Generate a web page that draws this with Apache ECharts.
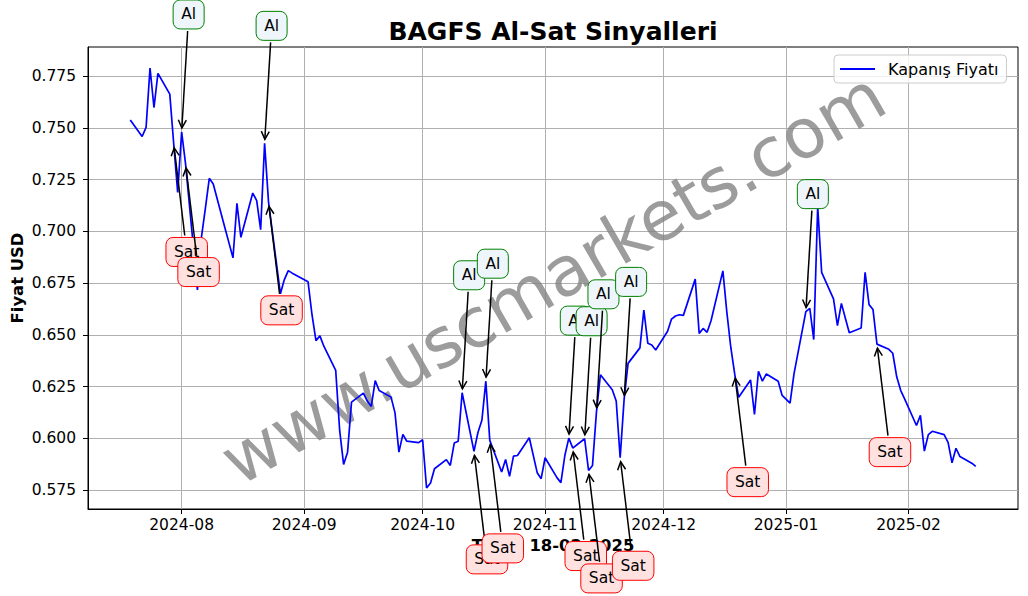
<!DOCTYPE html>
<html>
<head>
<meta charset="utf-8">
<script src="https://cdn.jsdelivr.net/npm/echarts@6/dist/echarts.min.js"></script>
<style>
html,body{margin:0;padding:0;background:#fff;}
#chart{width:1028px;height:596px;}
</style>
</head>
<body>
<div id="chart"></div>
<script>
const dates = [
'2024-07-19','2024-07-22','2024-07-23','2024-07-24','2024-07-25','2024-07-26','2024-07-29','2024-07-30','2024-07-31',
'2024-08-01','2024-08-02','2024-08-05','2024-08-06','2024-08-07','2024-08-08','2024-08-09','2024-08-12','2024-08-13',
'2024-08-14','2024-08-15','2024-08-16','2024-08-19','2024-08-20','2024-08-21','2024-08-22','2024-08-23','2024-08-26',
'2024-08-27','2024-08-28','2024-08-29','2024-09-02','2024-09-03','2024-09-04','2024-09-05','2024-09-06','2024-09-09',
'2024-09-10','2024-09-11','2024-09-12','2024-09-13','2024-09-16','2024-09-17','2024-09-18','2024-09-19','2024-09-20',
'2024-09-23','2024-09-24','2024-09-25','2024-09-26','2024-09-27','2024-09-30','2024-10-01','2024-10-02','2024-10-03',
'2024-10-04','2024-10-07','2024-10-08','2024-10-09','2024-10-10','2024-10-11','2024-10-14','2024-10-15','2024-10-16',
'2024-10-17','2024-10-18','2024-10-21','2024-10-22','2024-10-23','2024-10-24','2024-10-25','2024-10-28','2024-10-30',
'2024-10-31','2024-11-01','2024-11-04','2024-11-05','2024-11-06','2024-11-07','2024-11-08','2024-11-11','2024-11-12',
'2024-11-13','2024-11-14','2024-11-15','2024-11-18','2024-11-19','2024-11-20','2024-11-21','2024-11-22','2024-11-25',
'2024-11-26','2024-11-27','2024-11-28','2024-11-29','2024-12-02','2024-12-03','2024-12-04','2024-12-05','2024-12-06',
'2024-12-09','2024-12-10','2024-12-11','2024-12-12','2024-12-13','2024-12-16','2024-12-17','2024-12-18','2024-12-19',
'2024-12-20','2024-12-23','2024-12-24','2024-12-25','2024-12-26','2024-12-27','2024-12-30','2024-12-31','2025-01-02',
'2025-01-03','2025-01-06','2025-01-07','2025-01-08','2025-01-09','2025-01-10','2025-01-13','2025-01-14','2025-01-15',
'2025-01-16','2025-01-17','2025-01-20','2025-01-21','2025-01-22','2025-01-23','2025-01-24','2025-01-27','2025-01-28',
'2025-01-29','2025-01-30','2025-01-31','2025-02-03','2025-02-04','2025-02-05','2025-02-06','2025-02-07','2025-02-10',
'2025-02-11','2025-02-12','2025-02-13','2025-02-14','2025-02-17','2025-02-18'
];
const prices = [
0.7538,0.7458,0.7502,0.7789,0.7598,0.7763,0.7663,0.7422,0.7188,
0.7480,0.7325,0.6717,0.6970,0.7110,0.7256,0.7229,0.7014,0.6943,
0.6872,0.7135,0.6971,0.7185,0.7148,0.7008,0.7425,0.7140,0.6698,
0.6767,0.6810,0.6798,0.6756,0.6597,0.6472,0.6495,0.6445,0.6328,
0.6038,0.5874,0.5933,0.6175,0.6218,0.6180,0.6154,0.6279,0.6231,
0.6199,0.6124,0.5933,0.6019,0.5986,0.5979,0.5993,0.5760,0.5784,
0.5853,0.5897,0.5869,0.5977,0.5986,0.6220,0.5937,0.6028,0.6087,
0.6276,0.5990,0.5837,0.5898,0.5816,0.5914,0.5917,0.6003,0.5834,
0.5805,0.5906,0.5810,0.5786,0.5917,0.6001,0.5953,0.5998,0.5845,
0.5869,0.6128,0.6307,0.6235,0.6180,0.5906,0.6188,0.6362,0.6437,
0.6620,0.6459,0.6451,0.6427,0.6517,0.6576,0.6591,0.6597,0.6594,
0.6769,0.6507,0.6531,0.6512,0.6568,0.6809,0.6610,0.6440,0.6310,
0.6198,0.6282,0.6115,0.6324,0.6276,0.6311,0.6276,0.6207,0.6170,
0.6311,0.6612,0.6628,0.6477,0.7120,0.6802,0.6674,0.6545,0.6652,
0.6580,0.6510,0.6533,0.6802,0.6646,0.6622,0.6455,0.6430,0.6411,
0.6297,0.6232,0.6191,0.6062,0.6111,0.5938,0.6018,0.6034,0.6018,
0.5980,0.5882,0.5952,0.5912,0.5880,0.5864
];
const alDates = ['2024-08-01','2024-08-22','2024-10-11','2024-10-17','2024-11-07','2024-11-11','2024-11-14','2024-11-21','2025-01-06'];
const satDates = ['2024-07-30','2024-08-02','2024-08-23','2024-10-14','2024-10-18','2024-11-08','2024-11-12','2024-11-20','2024-12-19','2025-01-24'];
const monthTicks = ['2024-08-01','2024-09-01','2024-10-01','2024-11-01','2024-12-01','2025-01-01','2025-02-01'];
const yTicks = [0.575,0.600,0.625,0.650,0.675,0.700,0.725,0.750,0.775];
const titleText = 'BAGFS Al-Sat Sinyalleri';
const xLabel = 'Tarih: 18-02-2025';
const yLabel = 'Fiyat USD';
const seriesName = 'Kapanış Fiyatı';
const watermark = 'www.uscmarkets.com';

function ts(s){const p=s.split('-').map(Number);return new Date(p[0],p[1]-1,p[2]).getTime();}

const lineData = dates.map((d,i)=>[ts(d), prices[i]]);
const signals = alDates.map(d=>[ts(d), prices[dates.indexOf(d)], 0])
  .concat(satDates.map(d=>[ts(d), prices[dates.indexOf(d)], 1]))
  .sort((a,b)=>a[0]-b[0]);

const t0 = ts(dates[0]), t1 = ts(dates[dates.length-1]);
const xSpan = t1 - t0;
const pMin = Math.min.apply(null, prices), pMax = Math.max.apply(null, prices);
const ySpan = pMax - pMin;
const FONT = 'DejaVu Sans';

function fmtMonth(v){const d=new Date(v);return d.getFullYear()+'-'+String(d.getMonth()+1).padStart(2,'0');}

function renderSignal(params, api){
  const p = api.coord([api.value(0), api.value(1)]);
  const isAl = api.value(2) === 0;
  const off = isAl ? [7, -117.5] : [13, 108];
  const c = [p[0]+off[0], p[1]+off[1]];
  const w = isAl ? 31 : 41.5, h = 29;
  let dx = p[0]-c[0], dy = p[1]-c[1];
  const L = Math.sqrt(dx*dx+dy*dy); dx/=L; dy/=L;
  const t = Math.min(Math.abs(dx)>1e-6 ? (w/2)/Math.abs(dx) : 1e9, (h/2)/Math.abs(dy)) + 2;
  const s = [c[0]+dx*t, c[1]+dy*t];
  const tip = [p[0]-dx*4, p[1]-dy*4];
  const base = [tip[0]-dx*8, tip[1]-dy*8];
  const n = [-dy, dx];
  const h1 = [base[0]+n[0]*4, base[1]+n[1]*4];
  const h2 = [base[0]-n[0]*4, base[1]-n[1]*4];
  return {
    type: 'group',
    children: [
      {type:'line', shape:{x1:s[0],y1:s[1],x2:tip[0],y2:tip[1]}, style:{stroke:'#000',lineWidth:1.5}},
      {type:'polyline', shape:{points:[h1,tip,h2]}, style:{stroke:'#000',fill:null,lineWidth:1.5}},
      {type:'rect', shape:{x:c[0]-w/2,y:c[1]-h/2,width:w,height:h,r:7},
        style:{fill: isAl ? '#eef6fc' : '#ffe2e0', stroke: isAl ? '#008000' : '#ff0000', lineWidth:1}},
      {type:'text', x:c[0], y:c[1],
        style:{text: isAl ? 'Al' : 'Sat', fontSize:15.5, fontFamily:FONT, fill:'#000', align:'center', verticalAlign:'middle'}}
    ]
  };
}

const chart = echarts.init(document.getElementById('chart'), null, {renderer:'svg'});
chart.setOption({
  animation: false,
  backgroundColor: '#fff',
  textStyle: {fontFamily: FONT},
  grid: {left:88, right:10, top:47, bottom:87, show:true, borderColor:'#000', borderWidth:1, containLabel:false},
  legend: {
    data:[seriesName], left:834, top:55, icon:'rect', itemWidth:35, itemHeight:2,
    padding:[6,8,6,6], backgroundColor:'rgba(255,255,255,0.8)', borderColor:'#cccccc', borderWidth:1, borderRadius:4,
    textStyle:{fontSize:16, color:'#000', fontFamily:FONT, padding:[0,0,0,8]}
  },
  xAxis: {
    type:'value', min: t0 - 0.05*xSpan, max: t1 + 0.05*xSpan,
    axisLine:{show:true, lineStyle:{color:'#000', width:1}},
    axisTick:{show:true, length:5, lineStyle:{color:'#000'}, customValues: monthTicks.map(ts)},
    axisLabel:{fontSize:15.5, color:'#000', fontFamily:FONT, margin:8, customValues: monthTicks.map(ts), formatter: fmtMonth},
    splitLine:{show:true, lineStyle:{color:'#b0b0b0', width:1}}
  },
  yAxis: {
    type:'value', min: pMin - 0.05*ySpan, max: pMax + 0.05*ySpan,
    axisLine:{show:true, lineStyle:{color:'#000', width:1}},
    axisTick:{show:true, length:5, lineStyle:{color:'#000'}, customValues: yTicks},
    axisLabel:{fontSize:15.5, color:'#000', fontFamily:FONT, margin:12, customValues: yTicks, formatter: v=>v.toFixed(3)},
    splitLine:{show:true, lineStyle:{color:'#b0b0b0', width:1}}
  },
  graphic: [
    {type:'text', x:553, y:278, rotation:Math.PI/6, z:1, silent:true,
      style:{text:watermark, fontSize:69, fontFamily:FONT, fill:'rgba(128,128,128,0.78)', align:'center', verticalAlign:'middle'}},
    {type:'text', x:553, y:31, z:5,
      style:{text:titleText, fontSize:25, fontWeight:'bold', fontFamily:FONT, fill:'#000', align:'center', verticalAlign:'middle'}},
    {type:'text', x:553, y:545, z:0,
      style:{text:xLabel, fontSize:16.4, fontWeight:'bold', fontFamily:FONT, fill:'#000', align:'center', verticalAlign:'middle'}},
    {type:'text', x:17, y:278, rotation:Math.PI/2, z:0,
      style:{text:yLabel, fontSize:16.4, fontWeight:'bold', fontFamily:FONT, fill:'#000', align:'center', verticalAlign:'middle'}}
  ],
  series: [
    {name:seriesName, type:'line', data:lineData, showSymbol:false, symbol:'none', z:2,
      color:'#0000ff', lineStyle:{color:'#0000ff', width:1.7}},
    {type:'custom', coordinateSystem:'cartesian2d', data:signals, renderItem:renderSignal, clip:false, z:4, silent:true,
      encode:{x:0, y:1}}
  ]
});
</script>
</body>
</html>
